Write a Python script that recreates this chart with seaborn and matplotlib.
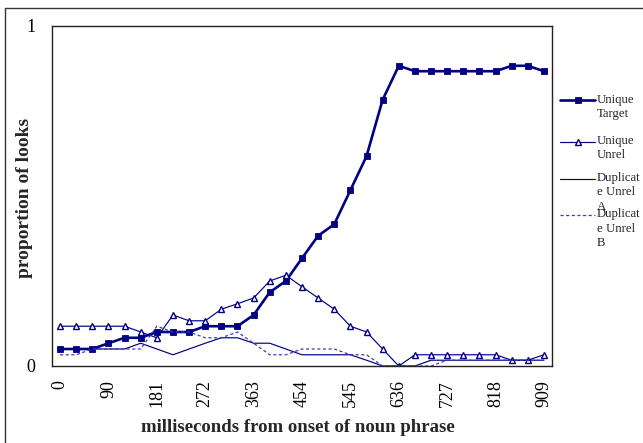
import numpy as np
import pandas as pd
import matplotlib
matplotlib.use("Agg")
import matplotlib.pyplot as plt
from matplotlib.lines import Line2D
import seaborn as sns

# ---- data ----
tick_labels = ["0", "90", "181", "272", "363", "454", "545", "636", "727", "818", "909"]
unique_target = [0.05, 0.05, 0.05, 0.067, 0.083, 0.083, 0.1, 0.1, 0.1, 0.117, 0.117,
                 0.117, 0.15, 0.217, 0.25, 0.317, 0.383, 0.417, 0.517, 0.617, 0.783,
                 0.883, 0.867, 0.867, 0.867, 0.867, 0.867, 0.867, 0.883, 0.883, 0.867]
unique_unrel = [0.117, 0.117, 0.117, 0.117, 0.117, 0.1, 0.083, 0.15, 0.133, 0.133, 0.167,
                0.183, 0.2, 0.25, 0.267, 0.233, 0.2, 0.167, 0.117, 0.1, 0.05,
                0.0, 0.033, 0.033, 0.033, 0.033, 0.033, 0.033, 0.017, 0.017, 0.033]
dup_unrel_a = [0.05, 0.05, 0.05, 0.05, 0.05, 0.067, 0.05, 0.033, 0.05, 0.067, 0.083,
               0.083, 0.067, 0.067, 0.05, 0.033, 0.033, 0.033, 0.033, 0.017, 0.0,
               0.0, 0.0, 0.017, 0.017, 0.017, 0.017, 0.017, 0.017, 0.017, 0.017]
dup_unrel_b = [0.033, 0.033, 0.05, 0.05, 0.05, 0.05, 0.117, 0.1, 0.1, 0.083, 0.083,
               0.1, 0.067, 0.033, 0.033, 0.05, 0.05, 0.05, 0.033, 0.033, 0.0,
               0.0, 0.0, 0.0, 0.017, 0.017, 0.017, 0.017, 0.017, 0.017, 0.017]
series_names = ["Unique\nTarget", "Unique\nUnrel", "Duplicat\ne Unrel\nA", "Duplicat\ne Unrel\nB"]

idx = list(range(len(unique_target)))

sns.set_style("white")
plt.rcParams["font.family"] = ["Liberation Serif", "DejaVu Serif"]

W, H = 643, 443
fig = plt.figure(figsize=(W / 100, H / 100), dpi=100)

def fx(x):
    return x / W

def fy(y):
    return 1 - y / H

ax = fig.add_axes([fx(52), fy(366), 500 / W, 340 / H])

NAVY = "#000080"
DASH = "#3b3bc4"

styles = [
    dict(color=NAVY, linewidth=1.9, marker="s", markersize=4.8, markerfacecolor=NAVY,
         markeredgecolor=NAVY, markeredgewidth=0.6),
    dict(color=NAVY, linewidth=0.85, marker="^", markersize=4.6, markerfacecolor="white",
         markeredgecolor=NAVY, markeredgewidth=1.0),
    dict(color=NAVY, linewidth=0.85),
    dict(color=DASH, linewidth=0.9, linestyle=(0, (2.5, 2.0))),
]
all_vals = [unique_target, unique_unrel, dup_unrel_a, dup_unrel_b]
for vals, st in zip(all_vals, styles):
    df = pd.DataFrame({"x": idx, "y": vals})
    sns.lineplot(data=df, x="x", y="y", ax=ax, legend=False, **st)

ax.set_xlim(-0.5, len(idx) - 0.5)
ax.set_ylim(0, 1)
ax.set_xticks(list(range(0, len(idx), 3)))
ax.set_xticklabels(tick_labels, rotation=90)
ax.set_yticks([0, 1])
ax.set_yticklabels(["0", "1"])
ax.tick_params(axis="both", length=0, labelsize=13, colors="black")
ax.tick_params(axis="x", pad=10)
ax.tick_params(axis="y", pad=12)
for sp in ax.spines.values():
    sp.set_visible(True)
    sp.set_color("#222222")
    sp.set_linewidth(1.0)

ax.set_xlabel("milliseconds from onset of noun phrase", fontsize=13.5, fontweight="bold")
ax.xaxis.set_label_coords((298 - 52) / 500, (366 - 428) / 340)
ax.xaxis.label.set_va("center")
ax.set_ylabel("proportion of looks", fontsize=14, fontweight="bold")
ax.yaxis.set_label_coords((25 - 52) / 500, (366 - 198) / 340)
ax.yaxis.label.set_va("center")

# legend (Excel style: handle aligned with first text line)
leg_y = [100, 141.5, 178.5, 215]
for y, st, name in zip(leg_y, styles, series_names):
    kw = dict(st)
    ln = Line2D([fx(560), fx(595)], [fy(y), fy(y)], transform=fig.transFigure, **kw)
    ln.set_markevery([])
    fig.add_artist(ln)
    if "marker" in st:
        mk = Line2D([fx(577.5)], [fy(y)], transform=fig.transFigure, linestyle="none",
                    marker=st["marker"], markersize=st["markersize"],
                    markerfacecolor=st["markerfacecolor"], markeredgecolor=st["markeredgecolor"],
                    markeredgewidth=st["markeredgewidth"])
        fig.add_artist(mk)
    fig.text(fx(597), fy(y - 6.5), name, fontsize=9.2, ha="left", va="top", linespacing=1.25)

# outer chart-area frame (top and left visible)
fig.add_artist(Line2D([fx(5), fx(643)], [fy(7.5), fy(7.5)], transform=fig.transFigure,
                      color="#333333", linewidth=1.0))
fig.add_artist(Line2D([fx(5), fx(5)], [fy(7.5), fy(443)], transform=fig.transFigure,
                      color="#333333", linewidth=1.0))

fig.savefig("out.png", dpi=100, facecolor="white")
